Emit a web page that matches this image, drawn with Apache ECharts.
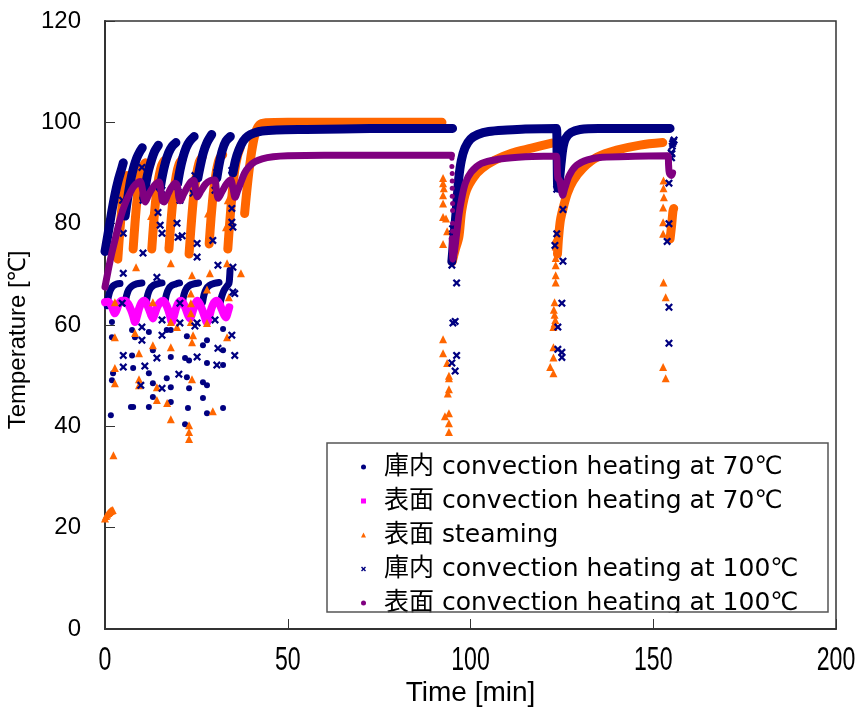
<!DOCTYPE html>
<html>
<head>
<meta charset="utf-8">
<script src="https://cdn.jsdelivr.net/npm/echarts@6/dist/echarts.min.js"></script>
<style>
  html, body { margin: 0; padding: 0; background: #fff; }
  #chart { width: 861px; height: 709px; }
</style>
</head>
<body>
<div id="chart"></div>
<script>
// Series names (legend order)
const seriesNames = [
  '庫内 convection heating at 70℃',
  '表面 convection heating at 70℃',
  '表面 steaming',
  '庫内 convection heating at 100℃',
  '表面 convection heating at 100℃'
];

const xTicks = [0, 50, 100, 150, 200];
const yTicks = [0, 20, 40, 60, 80, 100, 120];

// --- 庫内 70℃ : dense hooks (time [min], temperature [℃]) ---
const inner70Bands = [
  [[0.6,63.8],[0.9,65.5],[1.4,66.8],[2.2,67.7],[3.2,68.1],[4.1,68.2]],
  [[5.5,64.3],[5.9,65.8],[6.5,67],[7.4,67.7],[8.6,68.1],[10.1,68.3]],
  [[11.3,64.5],[11.7,66],[12.3,67.1],[13.2,67.8],[14.4,68.1],[15.6,68.3]],
  [[16.4,64.5],[16.8,66],[17.4,67.1],[18.3,67.8],[19.4,68.1],[20.4,68.3]],
  [[21.2,64.5],[21.6,66],[22.2,67.1],[23.1,67.8],[24.3,68.1],[25.6,68.3]],
  [[26.7,64.5],[27.1,66],[27.7,67.1],[28.6,67.8],[29.9,68.2],[31.2,68.4]],
  [[31.5,64.3],[32,65.8],[32.6,66.9],[33.3,67.6],[33.9,68.2],[34.1,69.5],[34.2,70.8]]
];
// door-opening readings
const inner70Points = [
  [1.9,60.6],[1.9,57.6],[2.2,50.5],[1.9,49.1],[1.6,42.2],[7.4,59],[7.4,54],[7.7,51.5],
  [7.7,43.8],[7.1,43.8],[8.2,57.6],[12,58.6],[13.1,55],[12,50.5],[13.1,48.5],[13.1,45.8],
  [12,43.8],[16.9,59],[18,59],[18,53.7],[16.9,49.5],[18,47.7],[18,44.8],[21.9,53.5],
  [23,53],[22.4,49.7],[23,47.5],[22.7,43.6],[21.9,40.4],[22.4,57.8],[26.8,56],[27.9,52.5],
  [26.8,48.7],[27.9,48.1],[26.8,45.6],[27.9,42.6],[27.9,57],[32.3,55],[32.3,52.1],
  [32.3,43.6],[32.3,59.2]
];

// --- 表面 70℃ ---
const surface70Bands = [
  [[0,64.5],[0.8,64.6],[1.6,64],[2.2,63],[2.7,62.3],[3.2,63],[3.8,64.2],[4.6,64.8],[5.5,64.8],
   [6.3,64.2],[7.1,63],[7.7,61.8],[8.2,60.6],[8.7,61.6],[9.3,63.2],[10,64.4],[10.7,64.8],
   [11.4,64.2],[12.1,63],[12.6,62],[13.1,61.3],[13.6,62.2],[14.3,63.6],[15.1,64.5],[15.9,64.8],
   [16.6,64.2],[17.3,63],[17.8,61.8],[18.3,60.6],[18.8,61.6],[19.4,63.2],[20.1,64.4],[20.8,64.8],
   [21.5,64.2],[22.2,63],[22.8,61.8],[23.3,61.3],[23.8,62.2],[24.4,63.6],[25.2,64.8],[25.9,64.2],
   [26.6,63],[27.2,61.8],[27.9,60.5],[28.5,61.6],[29.1,63.2],[29.8,64.4],[30.6,64.8],[31.3,64.2],
   [32,63],[32.6,62],[33.1,61.5],[33.6,62.5],[34,63.5]]
];
const surface70Points = [[0.2,64.6],[33.9,63.2]];

// --- 表面 steaming ---
const steamBands = [
  [[3.5,73],[4,78],[4.6,83],[5.2,87],[6,89.5]],
  [[7.7,75],[8.2,80],[8.8,85],[9.4,88.5],[10.2,91],[11,92]],
  [[12.8,75],[13.3,80],[14,85.5],[14.7,89],[15.5,91.5],[16.3,92.5]],
  [[17.5,75],[18,80],[18.7,85.5],[19.5,89.5],[20.3,91.8],[21.2,92.8]],
  [[23,74],[23.5,79],[24.2,85],[25,89.5],[25.8,92.2],[26.6,93.2]],
  [[28.5,76],[29,81],[29.7,86.5],[30.5,90.5],[31.3,92.8],[32.2,93.6]],
  [[33.6,75],[34.1,80],[34.8,86],[35.5,90.5],[36.3,93.5],[37,95]],
  [[38.2,82],[38.8,86.5],[39.5,91],[40.3,95],[41.2,98],[42.3,99.5],[44,99.9],[50,100],[70,100],[92.2,100]],
  [[95,72.5],[95.8,74.8],[96.8,77.3],[97.6,82.6],[98.9,86.6],[100.9,89.2],[103.1,90.9],[106.6,92.5],
   [111.2,93.9],[116.7,94.9],[122.3,95.9]],
  [[123.8,74],[124.1,77.3],[124.6,80.7],[125.4,83.2],[126.5,86],[128.1,88.5],[130.8,91],[134.6,93.1],
   [140,94.5],[146.4,95.5],[152.6,96]],
  [[154.6,77],[155,79.5],[155.4,82.5],[155.6,83]]
];
const steamPoints = [
  [0,21.8],[0.3,22.3],[0.6,22.6],[0.9,22.9],[1.2,23.1],[1.5,23.3],[1.8,23.4],[2.1,23.5],
  [2.3,34.3],[2.7,48.5],[2.7,51.5],[2.7,57.6],[2.7,64.5],[3.6,73.4],[3.6,74.8],[8.5,71.4],
  [8.2,58.4],[9.3,54.4],[9.3,49.3],[9.3,48.1],[13.1,64.5],[13.1,56],[14.2,47.7],[14.2,45.2],
  [12.6,81.5],[17.4,76.1],[18,72.2],[18,60.6],[18,55.6],[17,44.6],[18,41.4],[19.7,59.6],
  [23,40.2],[23,38.9],[23,37.5],[23.5,66.2],[23.5,64.3],[23.5,62.3],[23.5,60.6],[24.1,58],
  [23.8,56.6],[23.8,49.3],[23.8,69.8],[27.9,67],[27.9,60.4],[28.2,82],[28.7,70.2],[29.5,43],
  [33.4,57.6],[33.4,72.2],[33.1,79.3],[33.6,84.6],[33.9,65.5],[37.2,70.2],
  [92.5,89],[92.5,88],[92.7,87],[92.5,85.6],[92.5,84],[92.5,81.3],[93.3,81],[93.6,78.5],
  [92.5,76],[92.5,57.2],[92.5,54.4],[93.6,52.5],[94.1,50],[94.1,49.5],[94.1,47.3],[93.8,46.5],
  [93,42],[94.1,42.6],[94.1,40.6],[94.1,38.9],
  [123.3,77],[123.3,75.5],[123.3,73.2],[123.3,71.8],[123.3,69.8],[123.3,68.4],[123,64.5],
  [122.8,63],[123,62],[123.2,61],[123,60.3],[122.7,59.6],[122.7,55.6],[122.7,53.6],
  [121.8,51.7],[122.7,50.5],
  [152.8,88.5],[152.8,87],[152.9,85.2],[152.7,83.2],[152.7,80.3],[152.7,78],[152.8,68.4],
  [153.4,65.5],[152.7,51.7],[153.4,49.5]
];

// --- 庫内 100℃ ---
const inner100Bands = [
  [[0,74.5],[0.6,77],[1.3,80],[2,83],[2.8,86],[3.6,88.5],[4.4,90.5],[5,92]],
  [[5.5,81.5],[6.2,85],[7,88.5],[7.8,91],[8.7,93],[9.6,94.3],[10.2,95]],
  [[10.6,85],[11.2,88],[11.9,90.5],[12.7,92.5],[13.6,94.3],[14.6,95.5]],
  [[15.1,87],[15.7,89.5],[16.5,92],[17.4,94],[18.4,95.3],[19.4,96]],
  [[19.9,88],[20.5,90.5],[21.3,93],[22.2,95],[23.2,96.3],[24.4,97.2]],
  [[25.4,89],[26.1,91.5],[26.9,94],[27.9,96],[29.2,97.6]],
  [[30.6,89],[31.3,92],[32.1,94.5],[33.1,96.3],[34.3,97.2]],
  [[35,90],[35.7,92.5],[36.6,94.5],[37.8,96.3],[39.1,97.3],[40.8,97.9],[43,98.3],[47,98.5],
   [55,98.6],[65,98.7],[80,98.8],[95.1,98.8]],
  [[94.9,72.5],[95.3,76],[95.8,80],[96.3,84.5],[96.8,89],[97.5,92.5],[98.5,95],[100,96.7],
   [102,97.6],[105,98.2],[110,98.5],[115,98.7],[123.5,98.8],[123.7,93],[123.9,87],[124.3,88.5],
   [124.8,92],[125.3,95],[126,96.8],[127.5,98],[130,98.6],[135,98.8],[154.6,98.8]]
];
const inner100Points = [
  [4.8,84.6],[5,82.2],[5,78.1],[10.1,91.1],[10.4,84.6],[10.4,74.2],[5,70.2],[15.1,79.7],
  [15.6,78.1],[14.2,69.4],[19.7,80.1],[20,77.3],[21.1,77.6],[25.2,76.1],[25.2,73.4],[24.1,86],
  [24.6,89.5],[29.5,76.7],[30.1,86.6],[30.9,71.8],[34.7,83],[34.7,80.3],[35,79.3],[34.7,90.5],
  [35,71.4],[35.5,66.2],[14.5,82.2],[15.6,86.6],[20,87.2],[20.5,84.6],[30.6,90.1],
  [4.7,64.3],[5,54],[5,51.7],[10.1,59.6],[10.1,57],[9.8,48.1],[10.9,51.9],[15.6,61],[15.6,58],
  [15.6,47.5],[14.2,53.5],[20.5,64.3],[20.5,60.4],[20.2,50.3],[25.2,60.4],[25.2,53.7],
  [24.6,59.8],[30.1,61],[30.9,55.4],[30.6,52.1],[34.7,58],[35.5,54],[35,66.5],
  [94.9,71.8],[96.2,68.3],[95.2,60.4],[95.8,60.7],[96.2,54],[94.9,52.5],[95.8,50.9],
  [95.1,79],[95.1,77.5],
  [123.6,86.8],[125.3,82.8],[123.6,78],[123.1,75.7],[125.3,72.6],[125,64.3],[123.9,59.6],
  [123.9,55.2],[125,54.6],[125,53.6],
  [155.3,95.8],[155,93],[154.3,88],[154.3,80],[153.8,76.5],[154.3,63.5],[154.3,56.4],
  [154.9,94],[155.2,95.3],[155.5,96.2],[155.7,96.5],[155.1,93.8]
];

// --- 表面 100℃ ---
const surface100Bands = [
  [[0,67.5],[0.8,70.5],[1.8,74],[2.8,77],[3.8,80],[4.8,82.5],[5.8,84.5],[6.8,86],[7.8,87.3],
   [8.8,88],[9.6,88.3],[10.2,87],[10.6,85.2],[11,84.3],[11.8,85.5],[12.8,86.8],[13.8,87.8],
   [14.8,88.2],[15.3,86.5],[15.7,84.5],[16.2,84.3],[17.2,85.8],[18.2,87.2],[19.2,88],[19.8,87.5],
   [20.2,85.2],[20.6,84.5],[21.5,85.8],[22.5,87.2],[23.5,88.3],[24.3,88.5],[24.8,86.5],[25.3,85.3],
   [26.3,86.5],[27.5,87.8],[28.8,88.5],[30,88.6],[30.5,86.5],[31,85],[32,86.3],[33.2,87.8],
   [34.4,88.6],[35,87],[35.6,85.2],[36.3,86.5],[37.2,88.2],[38.2,90],[39.5,91.3],[41,92.2],
   [43,92.8],[46,93.2],[50,93.4],[60,93.5],[94.8,93.5]],
  [[95,77],[95.2,73],[95.6,74.5],[96.2,78],[96.9,82],[97.6,85],[98.6,88],[100.2,90.2],[103,91.9],
   [107.5,92.7],[113,93.1],[120,93.3],[123.5,93.3],[123.7,91.5],[123.9,89],[124.4,88.5],
   [124.9,86.5],[125.2,85.6],[125.8,87],[127,89.5],[129,91.5],[132,92.6],[136,93.1],[145,93.3],
   [154,93.4],[154.2,91.5],[154.4,90],[155,89.5],[155.3,90]]
];
const surface100Points = [
  [94.9,92.9],[94.9,91.3],[95,89.9],[95,88.4],[95,87],[95,85.4],[95.1,84],[95.1,82.6],
  [95.1,80.1],[95.1,78.5]
];

// x-shaped marker
const crossPath = 'path://M0,2 L2,0 L5,3 L8,0 L10,2 L7,5 L10,8 L8,10 L5,7 L2,10 L0,8 L3,5 Z';

const colors = ['#000080', '#FF00FF', '#FF6600', '#000080', '#800080'];
const symbols = ['circle', 'rect', 'triangle', crossPath, 'circle'];
const symbolSizes = [6, 6, 8, 8, 5];
const bandWidths = [7, 8, 9, 9, 7];
const bandSets = [inner70Bands, surface70Bands, steamBands, inner100Bands, surface100Bands];
const pointSets = [inner70Points, surface70Points, steamPoints, inner100Points, surface100Points];

const plainFont = "'Liberation Sans', Arial, sans-serif";

const series = [];
seriesNames.forEach((name, i) => {
  // individual readings (carry the legend entry)
  series.push({
    name, type: 'scatter', data: pointSets[i], symbol: symbols[i], symbolSize: symbolSizes[i],
    itemStyle: { color: colors[i], opacity: 1, borderWidth: 0 }, z: 2 + i, animation: false, silent: true
  });
  // densely logged stretches, drawn as thick strokes
  bandSets[i].forEach(seg => {
    series.push({
      type: 'line', data: seg, showSymbol: false, symbol: 'none', smooth: 0.3,
      lineStyle: { color: colors[i], width: bandWidths[i], cap: 'round', join: 'round' },
      itemStyle: { color: colors[i] }, z: 2 + i, animation: false, silent: true
    });
  });
});

const chart = echarts.init(document.getElementById('chart'), null, { renderer: 'canvas' });
chart.setOption({
  animation: false,
  backgroundColor: '#fff',
  grid: {
    left: 105, right: 25, top: 21, bottom: 80, containLabel: false, outerBoundsMode: 'none',
    show: true, borderColor: '#333', borderWidth: 1.5
  },
  xAxis: {
    type: 'value', min: xTicks[0], max: xTicks[xTicks.length - 1], interval: 50,
    name: 'Time [min]', nameLocation: 'middle', nameGap: 50,
    nameTextStyle: { fontFamily: plainFont, fontSize: 28, color: '#000' },
    axisLine: { lineStyle: { color: '#333', width: 2 } },
    axisTick: { inside: true, length: 10, lineStyle: { color: '#333', width: 1 } },
    // tick labels are drawn below as condensed text
    axisLabel: { show: false },
    splitLine: { show: false }
  },
  yAxis: {
    type: 'value', min: yTicks[0], max: yTicks[yTicks.length - 1], interval: 20,
    name: 'Temperature [℃]', nameLocation: 'middle', nameGap: 74, nameRotate: 90,
    nameTextStyle: { fontFamily: plainFont, fontSize: 24, color: '#000', padding: [0, 30, 0, 0] },
    axisLine: { lineStyle: { color: '#333', width: 2 } },
    axisTick: { inside: true, length: 10, lineStyle: { color: '#333', width: 1 } },
    axisLabel: { margin: 24, fontFamily: plainFont, fontSize: 24, color: '#000' },
    splitLine: { show: false }
  },
  legend: {
    orient: 'vertical', left: 356, top: 445, itemGap: 0, itemWidth: 5, itemHeight: 5,
    z: 10, selectedMode: false,
    itemStyle: { borderWidth: 0 },
    data: seriesNames.map((n, i) => ({
      name: n, icon: symbols[i],
      itemStyle: { color: colors[i], borderWidth: 0, borderColor: colors[i] }
    })),
    textStyle: { fontFamily: "'DejaVu Sans', 'Noto Sans CJK JP', sans-serif", fontSize: 25, color: '#000', lineHeight: 34, padding: [0, 0, 0, 13] }
  },
  series
});

// Condensed x tick labels, placed at each tick through the axis scale
const labelY = chart.convertToPixel({ yAxisIndex: 0 }, yTicks[0]) + 32;
const graphics = [
  // legend box: white fill underneath, frame on top; the strip below the frame trims the last row
  { type: 'rect', z: 3, shape: { x: 327, y: 443, width: 501, height: 169 }, style: { fill: '#fff' } },
  { type: 'rect', z: 20, shape: { x: 328, y: 613, width: 500, height: 5 }, style: { fill: '#fff' } },
  { type: 'rect', z: 21, shape: { x: 327, y: 443, width: 501, height: 169 }, style: { fill: 'none', stroke: '#555', lineWidth: 1.5 } }
];
xTicks.forEach(v => {
  graphics.push({
    type: 'text', z: 5, x: chart.convertToPixel({ xAxisIndex: 0 }, v), y: labelY, scaleX: 0.68,
    style: { text: String(v), fill: '#000', font: "34px 'Liberation Sans', Arial, sans-serif", align: 'center', verticalAlign: 'middle' }
  });
});
chart.setOption({ graphic: graphics });
</script>
</body>
</html>
